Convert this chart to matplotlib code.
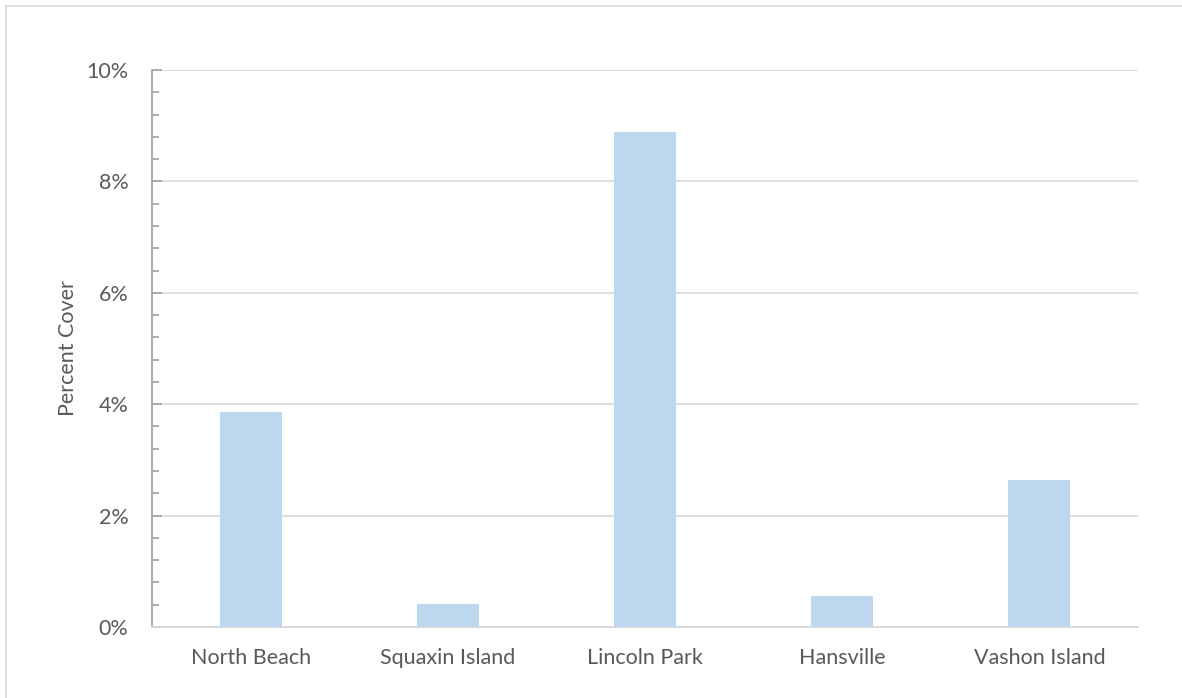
import numpy as np
import matplotlib.pyplot as plt
from matplotlib.patches import Rectangle
from matplotlib.ticker import FuncFormatter, MultipleLocator

# Данные
sites = ["North Beach", "Squaxin Island", "Lincoln Park", "Hansville", "Vashon Island"]
cover = [3.86, 0.41, 8.88, 0.56, 2.64]

plt.rcParams["font.family"] = ["Lato", "DejaVu Sans"]

fig = plt.figure(figsize=(11.82, 6.98), dpi=100)
ax = fig.add_axes([152 / 1182, 1 - 627 / 698, (1138 - 152) / 1182, (627 - 70) / 698])

x = np.arange(len(sites))
ax.bar(x, cover, width=0.315, color="#bdd7ee", zorder=3)

ax.set_xlim(-0.5, len(sites) - 0.5)
ax.set_ylim(0, 10)
ax.set_xticks(x)
ax.set_xticklabels(sites)
ax.yaxis.set_major_locator(MultipleLocator(2))
ax.yaxis.set_minor_locator(MultipleLocator(0.4))
ax.yaxis.set_major_formatter(FuncFormatter(lambda v, p: f"{v:.0f}%"))

ax.grid(axis="y", which="major", color="#d9d9d9", linewidth=1.2, zorder=0)

for s in ["top", "right"]:
    ax.spines[s].set_visible(False)
ax.spines["left"].set_color("#a6a6a6")
ax.spines["left"].set_linewidth(1.3)
ax.spines["bottom"].set_color("#d9d9d9")
ax.spines["bottom"].set_linewidth(1.3)

ax.tick_params(axis="x", length=0, pad=15, labelsize=15.5, labelcolor="#595959")
ax.tick_params(axis="y", which="major", direction="in", length=7, width=1.3,
               color="#a6a6a6", labelsize=15.5, labelcolor="#595959", pad=17)
ax.tick_params(axis="y", which="minor", direction="in", length=5, width=1.3, color="#a6a6a6")

ax.set_ylabel("Percent Cover", fontsize=15.5, color="#595959", labelpad=6)

# Рамка
fig.add_artist(Rectangle((6 / 1182, -0.1), 1.2, (698 - 6) / 698 + 0.1,
                         transform=fig.transFigure, fill=False,
                         edgecolor="#d9d9d9", linewidth=1.2))

fig.savefig("out.png", dpi=100)
